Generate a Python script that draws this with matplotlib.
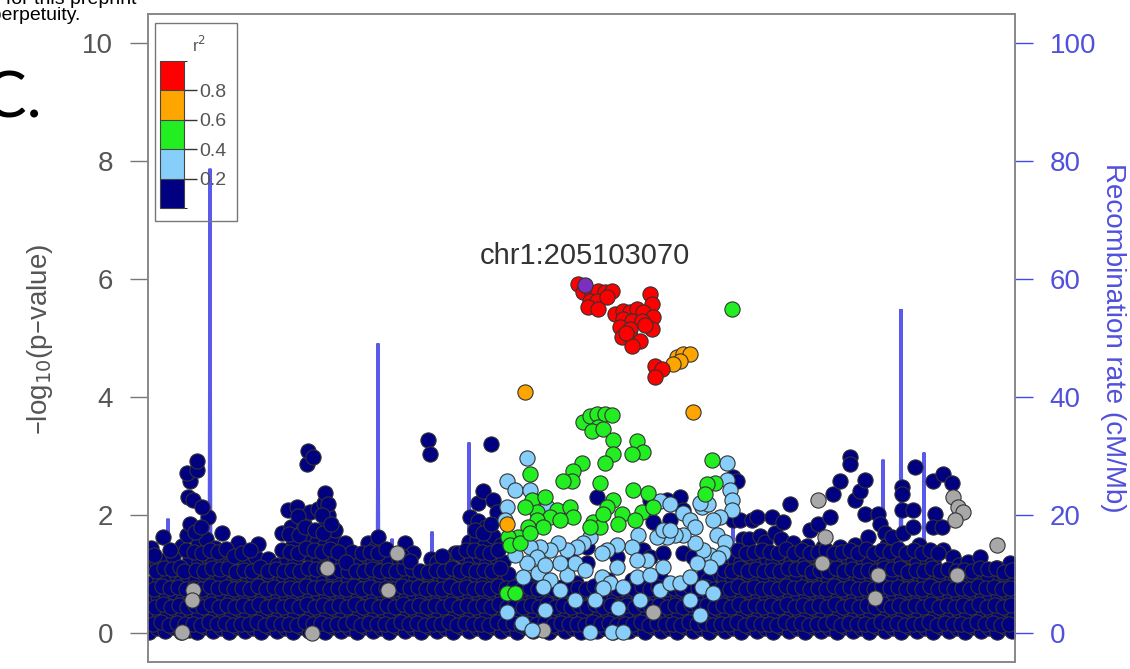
import matplotlib
matplotlib.use("Agg")
import matplotlib.pyplot as plt
from matplotlib.colors import ListedColormap, BoundaryNorm
from matplotlib.cm import ScalarMappable
from matplotlib.patches import Rectangle

plt.rcParams['font.family'] = ['Liberation Sans', 'DejaVu Sans']

# positions are kb from the window start (chr1 ~204666 kb), y is -log10(p)
lead_kb = [437]
lead_lp = [5.90]
lead_name = "chr1:205103070"

red_kb = [430, 435, 444, 450, 457, 464, 442, 449, 459, 440, 450, 502, 504, 467, 475, 482, 489,
          495, 505, 475, 484, 494, 472, 482, 504, 474, 484, 492, 484, 478, 507, 514, 507, 497]
red_lp = [5.92, 5.78, 5.75, 5.80, 5.78, 5.80, 5.63, 5.63, 5.70, 5.53, 5.49, 5.75, 5.58, 5.41, 5.46, 5.44, 5.49,
          5.44, 5.36, 5.32, 5.29, 5.29, 5.19, 5.15, 5.15, 5.02, 4.98, 4.95, 4.86, 5.08, 4.52, 4.47, 4.34, 5.22]

orange_kb = [377, 545, 529, 535, 542, 532, 525, 359]
orange_lp = [4.08, 3.74, 4.68, 4.73, 4.73, 4.61, 4.56, 1.84]

green_kb = [584, 435, 442, 449, 457, 464, 450, 444, 455, 465,
            489, 495, 484, 465, 457, 434, 425, 382, 424, 415,
            564, 452, 485, 500, 567, 559, 557, 465, 459, 384,
            389, 377, 409, 422, 425, 474, 494, 505, 487, 402,
            412, 445, 452, 455, 470, 389, 395, 380, 370, 360,
            362, 372, 382, 442, 359, 367, 397]
green_lp = [5.49, 3.57, 3.67, 3.72, 3.72, 3.69, 3.49, 3.42, 3.45, 3.28,
            3.25, 3.06, 3.03, 3.03, 2.89, 2.89, 2.74, 2.69, 2.57, 2.57,
            2.94, 2.55, 2.43, 2.38, 2.55, 2.52, 2.35, 2.26, 2.14, 2.26,
            2.06, 2.13, 2.09, 2.13, 1.97, 2.01, 2.06, 2.13, 1.92, 1.97,
            1.92, 1.89, 1.80, 2.01, 1.84, 1.92, 1.80, 1.79, 1.63, 1.63,
            1.50, 1.53, 1.70, 1.80, 0.68, 0.68, 2.31]

lblue_kb = [379, 359, 367, 382, 359, 392, 399, 512, 522, 535,
            542, 547, 554, 560, 579, 579, 582, 584, 584, 572,
            565, 569, 577, 575, 562, 555, 547, 535, 527, 519,
            509, 515, 490, 484, 469, 459, 454, 442, 435, 429,
            419, 410, 402, 392, 382, 389, 379, 375, 390, 402,
            419, 427, 412, 454, 462, 475, 489, 502, 512, 522,
            532, 542, 554, 565, 570, 562, 549, 515, 499, 469,
            489, 359, 374, 384, 442, 464, 475, 395, 412, 470,
            455, 552, 522, 357, 367, 397, 437, 447, 492, 427,
            542, 552, 397]
lblue_lp = [2.97, 2.57, 2.43, 2.43, 2.13, 2.21, 2.14, 2.23, 2.18, 2.04,
            1.92, 1.80, 2.14, 2.18, 2.89, 2.60, 2.43, 2.26, 2.09, 1.96,
            1.92, 1.67, 1.55, 1.36, 1.33, 1.41, 1.53, 1.67, 1.67, 1.63,
            1.63, 1.75, 1.67, 1.46, 1.50, 1.41, 1.36, 1.62, 1.53, 1.46,
            1.41, 1.53, 1.41, 1.46, 1.46, 1.29, 1.19, 0.95, 1.02, 0.90,
            0.99, 1.19, 1.19, 0.95, 0.85, 0.78, 0.95, 0.99, 0.73, 0.85,
            0.85, 0.95, 0.78, 0.68, 1.28, 1.12, 1.19, 1.12, 1.24, 1.12,
            1.24, 0.36, 0.17, 0.05, 0.02, 0.02, 0.02, 0.78, 0.73, 0.43,
            0.77, 2.21, 1.75, 1.92, 1.33, 1.16, 1.07, 0.56, 0.56, 0.56,
            0.56, 0.31, 0.39]

gray_kb = [45, 44, 179, 249, 240, 34, 164, 670, 677, 805, 810, 815, 807, 849, 809, 674, 395, 505, 730, 727]
gray_lp = [0.73, 0.56, 1.10, 1.36, 0.73, 0.02, 0.00, 2.26, 1.63, 2.30, 2.14, 2.06, 1.92, 1.50, 0.99, 1.19,
           0.05, 0.36, 0.99, 0.60]

# r2 < 0.2, one sub-list per stretch of the window
navy_kb = [
    [1, 3, 2, 4, 1, 3], [9, 11, 10, 12, 9], [17, 19, 18, 16, 19, 15], [25, 27, 26, 28, 25],
    [33, 35, 34, 32, 34], [41, 43, 42, 40, 42, 39, 42, 40, 42, 39], [49, 51, 50, 48, 51, 50, 45, 49, 49],
    [57, 59, 58, 56, 59, 58, 60, 54], [65, 67, 66, 68, 65, 67], [73, 75, 74, 72, 75, 74],
    [81, 83, 82, 84, 81], [89, 91, 90, 88, 90], [97, 99, 98, 100, 97], [105, 107, 106, 104, 107],
    [113, 115, 114, 116, 110], [121, 123, 122, 120, 120], [129, 131, 130, 132, 129],
    [137, 139, 138, 136, 139, 134], [145, 147, 146, 144, 147, 145, 143, 140],
    [153, 155, 154, 152, 155, 153, 149, 156], [161, 163, 162, 160, 163, 161, 162, 159, 160],
    [169, 171, 170, 168, 171, 169, 170, 165], [177, 179, 178, 176, 179, 177, 178, 176, 177],
    [185, 187, 186, 184, 187, 185, 180, 180, 187], [193, 195, 194, 192, 195, 197],
    [201, 203, 202, 200, 204], [209, 211, 210, 212, 210], [217, 219, 218, 216, 219, 220],
    [225, 227, 226, 228, 225, 227], [233, 235, 234, 232, 235, 230], [241, 243, 242, 244, 241],
    [249, 251, 250, 248, 251], [257, 259, 258, 256, 257], [265, 267, 266, 268, 265],
    [273, 275, 274, 272, 275], [281, 283, 282, 280, 283, 280, 282], [289, 291, 290, 292, 289],
    [297, 299, 298, 296, 299], [305, 307, 306, 308, 307], [313, 315, 314, 312, 315],
    [321, 323, 322, 320, 323, 321, 322], [329, 331, 330, 328, 331, 329, 330, 330],
    [337, 339, 338, 336, 339, 337, 338, 335, 345, 343], [345, 347, 346, 344, 347, 345, 349],
    [353, 355, 354, 352, 355, 353], [361, 363, 362, 360], [369, 371, 370, 372], [377, 379, 378],
    [385, 387, 386, 384], [393, 395, 394], [401, 403, 402], [409, 411, 410], [417, 419, 418, 422],
    [425, 427, 426, 428], [433, 435, 434, 435], [441, 443, 442, 439, 439], [449, 451, 450, 449],
    [457, 459, 458, 460], [465, 467, 466, 469], [473, 475, 474], [481, 483, 482, 484], [489, 491, 490],
    [497, 499, 498, 495, 502], [505, 507, 506, 502, 505], [513, 515, 514, 512, 515],
    [521, 523, 522, 519, 522], [529, 531, 530, 532, 535], [537, 539, 538, 535, 545],
    [545, 547, 546, 548], [553, 555, 554, 556], [561, 563, 562, 560], [569, 571, 570, 572],
    [577, 579, 578, 576, 579], [585, 587, 586, 584, 587, 585, 585, 589],
    [593, 595, 594, 596, 593, 592, 595], [601, 603, 602, 600, 603, 601, 604],
    [609, 611, 610, 608, 611, 609, 612], [617, 619, 618, 616, 619, 617],
    [625, 627, 626, 628, 625, 624, 627], [633, 635, 634, 632, 635, 635, 633],
    [641, 643, 642, 640, 643, 642, 645], [649, 651, 650, 648, 651], [657, 659, 658, 660, 657, 659],
    [665, 667, 666, 664, 667, 662], [673, 675, 674, 676, 673, 670, 675],
    [681, 683, 682, 680, 683, 682, 685], [689, 691, 690, 688, 691, 692, 692],
    [697, 699, 698, 696, 699, 702, 702], [705, 707, 706, 708, 705, 707, 707],
    [713, 715, 714, 712, 715, 712, 717, 717], [721, 723, 722, 724, 721, 720],
    [729, 731, 730, 728, 731, 730, 732, 737], [737, 739, 738, 740, 737, 739],
    [745, 747, 746, 744, 747, 744], [753, 755, 754, 756, 753, 754, 754, 754, 755],
    [761, 763, 762, 760, 763, 765, 765, 767], [769, 771, 770, 772, 769, 771],
    [777, 779, 778, 776, 779, 787], [785, 787, 786, 788, 785, 785, 785, 794],
    [793, 795, 794, 792, 795, 795], [801, 803, 802, 804, 805, 804], [809, 811, 810, 808, 811],
    [817, 819, 818, 820, 820], [825, 827, 826, 824], [833, 835, 834, 836, 832], [841, 843, 842, 840],
    [849, 851, 850, 852, 849], [857, 859, 858, 856, 862], [864, 866, 865, 867],
]
navy_lp = [
    [0.02, 0.28, 0.55, 0.85, 1.15, 1.45], [0.08, 0.35, 0.62, 0.90, 1.20], [0.03, 0.30, 0.60, 0.95, 1.25, 1.62],
    [0.10, 0.40, 0.70, 1.00, 1.30], [0.02, 0.30, 0.55, 0.85, 1.47],
    [0.05, 0.35, 0.65, 0.95, 1.25, 1.67, 1.84, 2.31, 2.57, 2.72], [0.02, 0.30, 0.60, 0.90, 1.20, 1.50, 2.26, 2.77, 2.91],
    [0.10, 0.40, 0.70, 1.00, 1.30, 1.60, 1.96, 2.13], [0.03, 0.30, 0.60, 0.90, 1.20, 1.45],
    [0.08, 0.35, 0.65, 0.95, 1.25, 1.70], [0.02, 0.28, 0.55, 0.85, 1.15], [0.10, 0.40, 0.70, 1.00, 1.53],
    [0.04, 0.32, 0.62, 0.92, 1.20], [0.08, 0.38, 0.68, 0.98, 1.30], [0.02, 0.30, 0.58, 0.88, 1.51],
    [0.10, 0.40, 0.70, 1.00, 1.26], [0.03, 0.30, 0.60, 0.90, 1.15], [0.08, 0.35, 0.65, 0.95, 1.25, 1.70],
    [0.02, 0.30, 0.60, 0.90, 1.20, 1.50, 1.80, 2.09], [0.10, 0.40, 0.70, 1.00, 1.35, 1.70, 2.14, 1.85],
    [0.04, 0.32, 0.62, 0.92, 1.30, 1.60, 2.05, 2.86, 3.08], [0.08, 0.38, 0.68, 1.00, 1.25, 1.55, 2.10, 2.99],
    [0.02, 0.30, 0.60, 0.90, 1.20, 1.50, 1.85, 2.20, 2.38], [0.10, 0.40, 0.70, 1.00, 1.30, 1.60, 2.00, 2.18, 1.75],
    [0.03, 0.30, 0.60, 0.90, 1.20, 1.53], [0.08, 0.35, 0.65, 0.95, 1.38], [0.02, 0.30, 0.60, 0.90, 1.16],
    [0.10, 0.40, 0.70, 1.00, 1.30, 1.53], [0.04, 0.32, 0.62, 0.92, 1.20, 1.45],
    [0.08, 0.38, 0.68, 0.98, 1.30, 1.63], [0.02, 0.30, 0.60, 0.90, 1.20], [0.10, 0.40, 0.70, 1.00, 1.25],
    [0.03, 0.30, 0.60, 0.90, 1.53], [0.08, 0.35, 0.65, 0.95, 1.36], [0.02, 0.30, 0.58, 0.80, 1.02],
    [0.10, 0.40, 0.70, 1.00, 1.25, 3.28, 3.03], [0.03, 0.30, 0.60, 0.90, 1.20], [0.08, 0.35, 0.65, 0.95, 1.25],
    [0.02, 0.30, 0.60, 0.90, 1.36], [0.10, 0.40, 0.70, 1.00, 1.30], [0.04, 0.32, 0.62, 0.92, 1.20, 1.55, 1.97],
    [0.08, 0.38, 0.68, 0.98, 1.30, 1.60, 1.90, 2.20], [0.02, 0.30, 0.60, 0.90, 1.20, 1.50, 1.80, 2.40, 2.26, 3.20],
    [0.10, 0.40, 0.70, 1.00, 1.30, 1.65, 2.05], [0.03, 0.30, 0.60, 0.90, 1.20, 1.50], [0.08, 0.35, 0.65, 1.00],
    [0.02, 0.30, 0.60, 0.85], [0.10, 0.40, 0.70], [0.03, 0.30, 0.60, 0.90], [0.08, 0.35, 0.65],
    [0.02, 0.30, 0.55], [0.10, 0.40, 0.70], [0.03, 0.30, 0.60, 1.29], [0.08, 0.35, 0.65, 0.85],
    [0.02, 0.25, 0.48, 0.72], [0.10, 0.40, 0.75, 1.46, 1.19], [0.03, 0.30, 0.60, 2.31], [0.08, 0.35, 0.65, 0.90],
    [0.02, 0.30, 0.60, 1.29], [0.10, 0.40, 0.70], [0.03, 0.30, 0.60, 0.90], [0.08, 0.35, 0.65],
    [0.02, 0.30, 0.60, 1.41, 1.29], [0.10, 0.40, 0.70, 2.26, 1.89], [0.03, 0.30, 0.60, 0.95, 1.36],
    [0.08, 0.35, 0.65, 2.26, 1.92], [0.02, 0.30, 0.60, 2.31, 2.09], [0.10, 0.40, 0.70, 1.36, 1.29],
    [0.03, 0.30, 0.60, 0.90], [0.08, 0.35, 0.65, 1.00], [0.02, 0.30, 0.60, 0.90], [0.10, 0.40, 0.70, 1.00],
    [0.03, 0.30, 0.60, 0.95, 1.25], [0.08, 0.35, 0.65, 0.95, 1.26, 1.92, 2.65, 2.57],
    [0.02, 0.30, 0.60, 0.90, 1.20, 1.92, 1.60], [0.10, 0.40, 0.70, 1.00, 1.30, 1.60, 1.92],
    [0.03, 0.30, 0.60, 0.90, 1.20, 1.96, 1.65], [0.08, 0.35, 0.65, 0.95, 1.25, 1.55],
    [0.02, 0.30, 0.60, 0.90, 1.20, 1.97, 1.70], [0.10, 0.40, 0.70, 1.00, 1.30, 1.89, 1.60],
    [0.03, 0.30, 0.60, 0.90, 1.20, 2.18, 1.53], [0.08, 0.35, 0.65, 0.95, 1.25],
    [0.02, 0.30, 0.60, 0.90, 1.20, 1.48], [0.10, 0.40, 0.70, 1.00, 1.30, 1.75],
    [0.03, 0.30, 0.60, 0.90, 1.20, 1.84, 1.46], [0.08, 0.35, 0.65, 0.95, 1.25, 1.96, 2.35],
    [0.02, 0.30, 0.60, 0.90, 1.20, 1.46, 2.57], [0.10, 0.40, 0.70, 1.00, 1.30, 2.99, 2.86],
    [0.03, 0.30, 0.60, 0.90, 1.20, 2.26, 1.50], [0.08, 0.35, 0.65, 0.95, 1.25, 2.40, 2.60, 2.01],
    [0.02, 0.30, 0.60, 0.90, 1.20, 1.63], [0.10, 0.40, 0.70, 1.00, 1.30, 2.01, 1.84, 1.70],
    [0.03, 0.30, 0.60, 0.90, 1.20, 1.50], [0.08, 0.35, 0.65, 0.95, 1.25, 1.63],
    [0.02, 0.30, 0.60, 0.90, 1.20, 2.48, 2.35, 2.09, 1.70], [0.10, 0.40, 0.70, 1.00, 1.30, 2.09, 1.80, 2.81],
    [0.03, 0.30, 0.60, 0.90, 1.20, 1.50], [0.08, 0.35, 0.65, 0.95, 1.25, 2.01],
    [0.02, 0.30, 0.60, 0.90, 1.20, 2.57, 1.79, 1.79], [0.10, 0.40, 0.70, 1.00, 1.41, 2.69],
    [0.03, 0.30, 0.60, 0.90, 1.29, 2.55], [0.08, 0.35, 0.65, 0.95, 1.15], [0.02, 0.30, 0.60, 0.90, 1.21],
    [0.10, 0.40, 0.70, 1.00], [0.03, 0.30, 0.60, 0.90, 1.29], [0.08, 0.35, 0.65, 0.95],
    [0.02, 0.30, 0.60, 0.90, 1.10], [0.10, 0.40, 0.70, 1.00, 1.19], [0.03, 0.30, 0.60, 0.90],
]

# more r2 < 0.2 SNPs lying between the ones above
navy_fill_kb = [
    [5, 7, 6, 8, 6], [13, 15, 14, 16], [21, 23, 22, 24, 22], [29, 31, 30, 32], [37, 39, 38, 36, 38],
    [45, 47, 46, 48, 46, 47], [53, 55, 54, 56, 54, 53], [61, 63, 62, 64, 62], [69, 71, 70, 72, 70],
    [77, 79, 78, 80, 78], [85, 87, 86, 88, 86], [93, 95, 94, 96, 94], [101, 103, 102, 104, 102],
    [109, 111, 110, 112], [117, 119, 118, 120], [125, 127, 126, 128], [133, 135, 134, 136, 134],
    [141, 143, 142, 144, 142, 141], [149, 151, 150, 152, 150, 151, 150], [157, 159, 158, 160, 158, 157],
    [165, 167, 166, 168, 166, 167], [173, 175, 174, 176, 174, 175, 174], [181, 183, 182, 184, 182, 183],
    [189, 191, 190, 192, 190], [197, 199, 198, 200, 198], [205, 207, 206, 208], [213, 215, 214, 216, 214],
    [221, 223, 222, 224, 222], [229, 231, 230, 232, 230], [237, 239, 238, 240, 238], [245, 247, 246, 248],
    [253, 255, 254, 256, 254], [261, 263, 262, 264, 262], [269, 271, 270, 272], [277, 279, 278, 280],
    [285, 287, 286, 288], [293, 295, 294, 296, 294], [301, 303, 302, 304], [309, 311, 310, 312, 310],
    [317, 319, 318, 320, 318], [325, 327, 326, 328, 326, 327], [333, 335, 334, 336, 334, 335],
    [341, 343, 342, 344, 342, 343], [349, 351, 350, 352, 350], [357, 359, 358], [365, 367, 366],
    [373, 375, 374], [381, 383, 382], [389, 391, 390], [397, 399, 398], [405, 407, 406], [413, 415, 414],
    [421, 423, 422], [429, 431, 430], [437, 439, 438], [445, 447, 446], [453, 455, 454], [461, 463, 462],
    [469, 471, 470], [477, 479, 478], [485, 487, 486], [493, 495, 494], [501, 503, 502], [509, 511, 510],
    [517, 519, 518], [525, 527, 526], [533, 535, 534], [541, 543, 542], [549, 551, 550], [557, 559, 558],
    [565, 567, 566], [573, 575, 574, 576], [581, 583, 582, 584], [589, 591, 590, 592, 590],
    [597, 599, 598, 600, 598], [605, 607, 606, 608, 606], [613, 615, 614, 616, 614], [621, 623, 622, 624, 622],
    [629, 631, 630, 632, 630], [637, 639, 638, 640, 638], [645, 647, 646, 648, 646], [653, 655, 654, 656, 654],
    [661, 663, 662, 664, 662], [669, 671, 670, 672, 670], [677, 679, 678, 680, 678], [685, 687, 686, 688, 686],
    [693, 695, 694, 696, 694], [701, 703, 702, 704, 702], [709, 711, 710, 712, 710], [717, 719, 718, 720, 718],
    [725, 727, 726, 728, 726], [733, 735, 734, 736, 734], [741, 743, 742, 744, 742], [749, 751, 750, 752, 750],
    [757, 759, 758, 760, 758], [765, 767, 766, 768, 766], [773, 775, 774, 776, 774], [781, 783, 782, 784, 782],
    [789, 791, 790, 792, 790], [797, 799, 798, 800], [805, 807, 806, 808], [813, 815, 814, 816],
    [821, 823, 822, 824], [829, 831, 830, 832], [837, 839, 838, 840], [845, 847, 846, 848],
    [853, 855, 854, 856], [861, 863, 862, 864],
]
navy_fill_lp = [
    [0.15, 0.45, 0.75, 1.05, 1.32], [0.18, 0.50, 0.80, 1.10], [0.14, 0.44, 0.76, 1.08, 1.40],
    [0.17, 0.48, 0.78, 1.12], [0.15, 0.45, 0.75, 1.05, 1.40], [0.16, 0.47, 0.77, 1.07, 1.38, 1.72],
    [0.14, 0.45, 0.75, 1.06, 1.36, 1.80], [0.18, 0.50, 0.80, 1.10, 1.40], [0.15, 0.45, 0.76, 1.08, 1.38],
    [0.17, 0.48, 0.78, 1.10, 1.42], [0.14, 0.44, 0.74, 1.04, 1.30], [0.16, 0.47, 0.77, 1.07, 1.36],
    [0.15, 0.45, 0.75, 1.05, 1.40], [0.18, 0.50, 0.80, 1.12], [0.14, 0.45, 0.75, 1.05],
    [0.17, 0.48, 0.78, 1.08], [0.15, 0.45, 0.75, 1.05, 1.40], [0.16, 0.47, 0.77, 1.07, 1.38, 1.68],
    [0.14, 0.45, 0.75, 1.06, 1.36, 1.66, 1.98], [0.18, 0.50, 0.80, 1.10, 1.45, 1.80],
    [0.15, 0.45, 0.76, 1.08, 1.40, 1.75], [0.17, 0.48, 0.78, 1.10, 1.38, 1.70, 2.00],
    [0.14, 0.44, 0.74, 1.04, 1.42, 1.85], [0.16, 0.47, 0.77, 1.07, 1.38], [0.15, 0.45, 0.75, 1.05, 1.20],
    [0.18, 0.50, 0.80, 1.05], [0.14, 0.45, 0.75, 1.05, 1.35], [0.17, 0.48, 0.78, 1.08, 1.38],
    [0.15, 0.45, 0.75, 1.05, 1.35], [0.16, 0.47, 0.77, 1.07, 1.42], [0.14, 0.45, 0.75, 1.06],
    [0.18, 0.50, 0.80, 1.10, 1.30], [0.15, 0.45, 0.76, 1.08, 1.22], [0.17, 0.48, 0.78, 1.05],
    [0.14, 0.44, 0.74, 1.04], [0.16, 0.47, 0.77, 1.07], [0.15, 0.45, 0.75, 1.05, 1.30],
    [0.18, 0.50, 0.80, 1.10], [0.14, 0.45, 0.75, 1.05, 1.35], [0.17, 0.48, 0.78, 1.08, 1.40],
    [0.15, 0.45, 0.75, 1.05, 1.40, 1.75], [0.16, 0.47, 0.77, 1.07, 1.38, 1.70],
    [0.14, 0.45, 0.75, 1.06, 1.36, 1.85], [0.18, 0.50, 0.80, 1.10, 1.40], [0.15, 0.45, 0.76],
    [0.17, 0.48, 0.78], [0.14, 0.44, 0.74], [0.16, 0.47, 0.77], [0.15, 0.45, 0.75], [0.18, 0.50, 0.80],
    [0.14, 0.45, 0.75], [0.17, 0.48, 0.78], [0.15, 0.45, 0.75], [0.16, 0.47, 0.77], [0.14, 0.45, 0.75],
    [0.18, 0.50, 0.80], [0.15, 0.45, 0.76], [0.17, 0.48, 0.78], [0.14, 0.44, 0.74], [0.16, 0.47, 0.77],
    [0.15, 0.45, 0.75], [0.18, 0.50, 0.80], [0.14, 0.45, 0.75], [0.17, 0.48, 0.78], [0.15, 0.45, 0.75],
    [0.16, 0.47, 0.77], [0.14, 0.45, 0.75], [0.18, 0.50, 0.80], [0.15, 0.45, 0.76], [0.17, 0.48, 0.78],
    [0.14, 0.44, 0.74], [0.16, 0.47, 0.77, 1.07], [0.15, 0.45, 0.75, 1.05], [0.18, 0.50, 0.80, 1.10, 1.40],
    [0.14, 0.45, 0.75, 1.05, 1.35], [0.17, 0.48, 0.78, 1.08, 1.38], [0.15, 0.45, 0.75, 1.05, 1.40],
    [0.16, 0.47, 0.77, 1.07, 1.38], [0.14, 0.45, 0.75, 1.06, 1.36], [0.18, 0.50, 0.80, 1.10, 1.42],
    [0.15, 0.45, 0.76, 1.08, 1.35], [0.17, 0.48, 0.78, 1.10, 1.40], [0.14, 0.44, 0.74, 1.04, 1.36],
    [0.16, 0.47, 0.77, 1.07, 1.38], [0.15, 0.45, 0.75, 1.05, 1.40], [0.18, 0.50, 0.80, 1.10, 1.35],
    [0.14, 0.45, 0.75, 1.05, 1.38], [0.17, 0.48, 0.78, 1.08, 1.40], [0.15, 0.45, 0.75, 1.05, 1.35],
    [0.16, 0.47, 0.77, 1.07, 1.42], [0.14, 0.45, 0.75, 1.06, 1.36], [0.18, 0.50, 0.80, 1.10, 1.40],
    [0.15, 0.45, 0.76, 1.08, 1.38], [0.17, 0.48, 0.78, 1.10, 1.42], [0.14, 0.44, 0.74, 1.04, 1.35],
    [0.16, 0.47, 0.77, 1.07, 1.40], [0.15, 0.45, 0.75, 1.05, 1.36], [0.18, 0.50, 0.80, 1.10, 1.40],
    [0.14, 0.45, 0.75, 1.05, 1.35], [0.17, 0.48, 0.78, 1.08], [0.15, 0.45, 0.75, 1.05],
    [0.16, 0.47, 0.77, 1.07], [0.14, 0.45, 0.75, 1.06], [0.18, 0.50, 0.80, 1.10], [0.15, 0.45, 0.76, 1.08],
    [0.17, 0.48, 0.78, 1.10], [0.14, 0.44, 0.74, 1.04], [0.16, 0.47, 0.77, 1.07],
]

# recombination rate (cM/Mb)
rec_kb = [0, 19, 20, 21, 61, 62, 63, 150, 229, 230, 231, 243, 244, 245, 283, 284, 285, 291, 292, 293,
          320, 321, 322, 450, 584, 585, 586, 650, 717, 718, 719, 734, 735, 736, 752, 753, 754, 775, 776, 777, 867]
rec_rate = [0.4, 0.6, 19.4, 0.5, 0.7, 78.7, 0.6, 0.3, 0.5, 49.1, 0.7, 0.4, 16.0, 0.5, 0.6, 17.2, 0.8, 0.5, 10.7, 0.4,
            0.6, 32.3, 0.5, 0.4, 0.6, 27.0, 0.5, 0.3, 0.5, 14.0, 0.6, 0.4, 29.4, 0.7, 0.5, 54.9, 0.6, 0.8, 30.6, 0.5, 0.4]

ld_bins = [0.0, 0.2, 0.4, 0.6, 0.8, 1.0]
ld_colors = ['#000080', '#87CEFA', '#22EE22', '#FFA500', '#FF0000']
gray_col = '#A8A8A8'
lead_col = '#7B2FBE'
rec_col = '#4848E8'

navy_x, navy_y = [], []
for ks, ls in zip(navy_kb + navy_fill_kb, navy_lp + navy_fill_lp):
    assert len(ks) == len(ls), ks
    navy_x += ks
    navy_y += ls

W, H = 1130, 669
fig = plt.figure(figsize=(W / 100, H / 100), dpi=100)
ax = fig.add_axes([148 / W, 1 - 662 / H, 867 / W, 648 / H])
ax2 = ax.twinx()
ax.set_zorder(ax2.get_zorder() + 1)
ax.patch.set_visible(False)

ax2.plot(rec_kb, rec_rate, color=rec_col, lw=2.2, alpha=0.9, solid_joinstyle='miter')

pt = dict(s=120, edgecolors='#333333', linewidths=0.8)
ax.scatter(navy_x, navy_y, c=ld_colors[0], **pt)
ax.scatter(gray_kb, gray_lp, c=gray_col, **pt)
ax.scatter(lblue_kb, lblue_lp, c=ld_colors[1], **pt)
ax.scatter(green_kb, green_lp, c=ld_colors[2], **pt)
ax.scatter(orange_kb, orange_lp, c=ld_colors[3], **pt)
ax.scatter(red_kb, red_lp, c=ld_colors[4], **pt)
ax.scatter(lead_kb, lead_lp, c=lead_col, **pt)
ax.text(lead_kb[0], 6.39, lead_name, ha='center', va='center', fontsize=21, color='#333333')

ax.set_xlim(0, 867)
ax.set_ylim(-0.49, 10.49)
ax2.set_ylim(-4.9, 104.9)
ax.set_xticks([])
ax.set_yticks([0, 2, 4, 6, 8, 10])
ax2.set_yticks([0, 20, 40, 60, 80, 100])
ax.tick_params(axis='y', length=13, width=1, color='#777777', labelsize=20, labelcolor='#555555', pad=12)
ax2.tick_params(axis='y', length=13, width=1, color=rec_col, labelsize=20, labelcolor='#5050DC', pad=12)
for a in (ax, ax2):
    for s in a.spines.values():
        s.set_color('#888888')
        s.set_linewidth(1.2)

fig.text(40 / W, 1 - 339 / H, '\u2013log$_{10}$(p\u2013value)', rotation=90,
         ha='center', va='center', fontsize=20, color='#555555')
fig.text(1113 / W, 1 - 338 / H, 'Recombination rate (cM/Mb)', rotation=270,
         ha='center', va='center', fontsize=20, color='#5050DC')

# r2 legend
fig.add_artist(Rectangle((155 / W, 1 - 221 / H), 82 / W, 198 / H, transform=fig.transFigure,
                         fill=False, edgecolor='#777777', lw=1))
cax = fig.add_axes([160 / W, 1 - 208 / H, 24 / W, 147 / H])
cmap = ListedColormap(ld_colors)
norm = BoundaryNorm(ld_bins, cmap.N)
cb = fig.colorbar(ScalarMappable(norm=norm, cmap=cmap), cax=cax, ticks=[0.2, 0.4, 0.6, 0.8], drawedges=True)
cb.outline.set_edgecolor('#444444')
cb.outline.set_linewidth(0.8)
cb.dividers.set_color('#444444')
cb.dividers.set_linewidth(0.8)
cax.tick_params(length=9, width=1, color='#333333', labelsize=14, labelcolor='#555555', pad=2)
fig.text(199 / W, 1 - 45 / H, r'r$^2$', ha='center', va='center', fontsize=12, color='#555555')

# panel letter and preprint notice
fig.text(-16 / W, 1 - 117 / H, 'C.', fontsize=46, color='black', family='Lato')
fig.text(137 / W, 1 - 4 / H, 'The copyright holder for this preprint', ha='right', fontsize=14, color='black')
fig.text(80 / W, 1 - 20 / H, 'in perpetuity.', ha='right', fontsize=14, color='black')

fig.savefig('out.png', dpi=100)
